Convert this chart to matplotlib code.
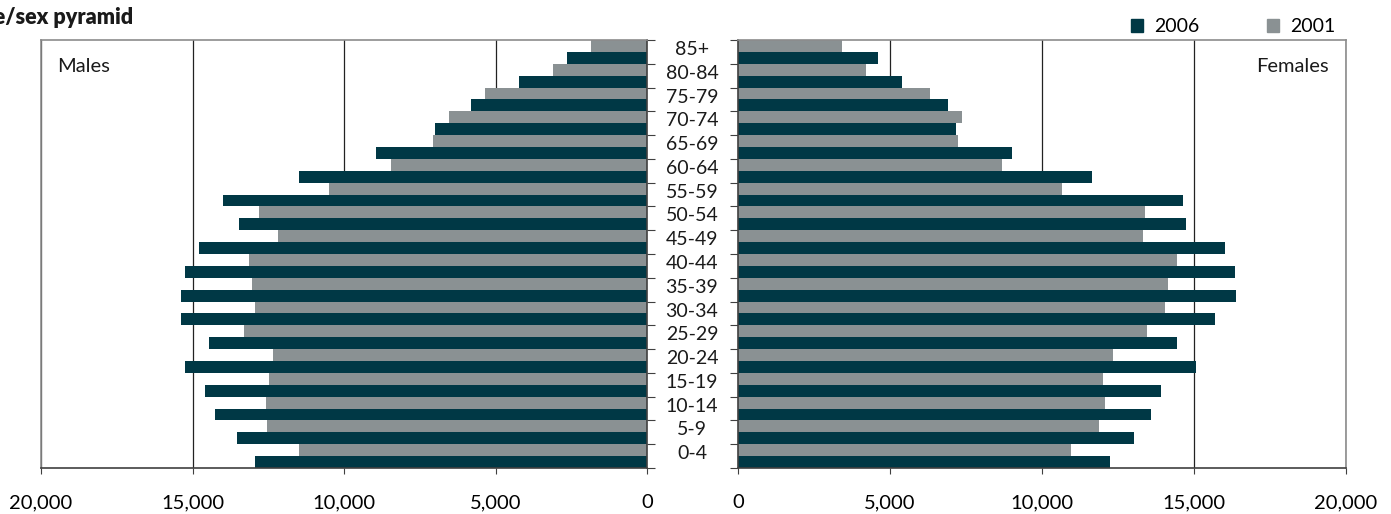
import numpy as np
import matplotlib
matplotlib.use('Agg')
import matplotlib.pyplot as plt
import matplotlib.transforms as mtransforms
from matplotlib.patches import Patch
from matplotlib.ticker import FuncFormatter

ages = ['0-4', '5-9', '10-14', '15-19', '20-24', '25-29', '30-34', '35-39', '40-44',
        '45-49', '50-54', '55-59', '60-64', '65-69', '70-74', '75-79', '80-84', '85+']

males_2006 = [12930, 13520, 14250, 14590, 15240, 14460, 15370, 15370, 15240,
              14780, 13450, 13980, 11470, 8930, 7010, 5810, 4210, 2630]
males_2001 = [11470, 12540, 12590, 12490, 12330, 13290, 12930, 13020, 13130,
              12170, 12800, 10510, 8460, 7070, 6530, 5350, 3100, 1860]
females_2006 = [12250, 13040, 13570, 13900, 15060, 14430, 15680, 16370, 16350,
                16010, 14750, 14640, 11660, 9020, 7180, 6910, 5380, 4600]
females_2001 = [10940, 11860, 12060, 12000, 12320, 13440, 14030, 14160, 14430,
                13310, 13380, 10670, 8700, 7240, 7370, 6320, 4200, 3420]

c2006 = '#003845'
c2001 = '#8a9193'
W, H = 1391, 514

plt.rcParams['font.family'] = ['Lato', 'DejaVu Sans']

fig = plt.figure(figsize=(W / 100, H / 100), dpi=100)
ax_m = fig.add_axes([41 / W, 46 / H, 606 / W, 428 / H])
ax_f = fig.add_axes([738 / W, 46 / H, 608 / W, 428 / H])

y = np.arange(len(ages))

for ax, v06, v01 in [(ax_m, males_2006, males_2001), (ax_f, females_2006, females_2001)]:
    ax.barh(y + 0.25, v01, height=0.5, color=c2001, zorder=2)
    ax.barh(y - 0.25, v06, height=0.5, color=c2006, zorder=2)
    ax.set_ylim(-0.5, len(ages) - 0.5)
    ax.set_yticks(np.arange(-0.5, len(ages), 1))
    ax.set_yticklabels([])
    ax.set_xticks([0, 5000, 10000, 15000, 20000])
    ax.xaxis.set_major_formatter(FuncFormatter(lambda v, p: f'{int(v):,}'))
    ax.tick_params(axis='x', length=4, pad=15, labelsize=14.5, color='#404040')
    ax.tick_params(axis='y', length=6, direction='out', color='#404040')
    ax.grid(axis='x', color='#222222', linewidth=0.9)
    ax.set_axisbelow(True)
    for s in ax.spines.values():
        s.set_linewidth(1.2)

ax_m.set_xlim(20000, 0)
ax_m.yaxis.tick_right()
ax_m.spines['left'].set_color('#8c8c8c')
ax_m.spines['top'].set_color('#8c8c8c')
ax_m.spines['bottom'].set_color('#404040')
ax_m.spines['right'].set_color('#404040')

ax_f.set_xlim(0, 20000)
ax_f.spines['right'].set_color('#8c8c8c')
ax_f.spines['top'].set_color('#8c8c8c')
ax_f.spines['bottom'].set_color('#404040')
ax_f.spines['left'].set_color('#404040')

# age labels between the two halves
trans = mtransforms.blended_transform_factory(fig.transFigure, ax_m.transData)
for i, a in enumerate(ages):
    ax_m.text(692 / W, i + 0.1, a, transform=trans, ha='center', va='center',
              fontsize=14, color='#1a1a1a')

ax_m.text(0.026, 0.957, 'Males', transform=ax_m.transAxes, ha='left', va='top',
          fontsize=14.5, color='#1a1a1a')
ax_f.text(0.972, 0.957, 'Females', transform=ax_f.transAxes, ha='right', va='top',
          fontsize=14.5, color='#1a1a1a')

# title is partly off the left edge, as in the source
fig.text(133 / W, 1 - 18 / H, 'Age/sex pyramid', ha='right', va='center',
         fontsize=15.5, fontweight='heavy', color='#1a1a1a')

handles = [Patch(color=c2006), Patch(color=c2001)]
fig.legend(handles, ['2006', '2001'], loc='upper right', ncol=2, frameon=False,
           bbox_to_anchor=(1353 / W, 1 - 1 / H), handlelength=0.6, handleheight=0.6,
           columnspacing=3.45, handletextpad=0.6, fontsize=14)

fig.savefig('out.png', dpi=100)
